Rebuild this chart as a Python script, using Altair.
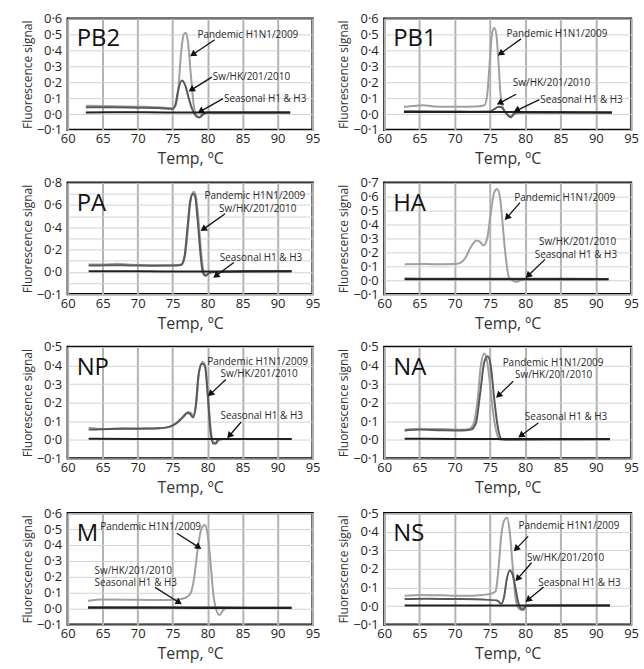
import math
import altair as alt
import pandas as pd

FONT = "Open Sans"

TEMP_DOMAIN = [60, 95]
TEMP_TICKS = [60, 65, 70, 75, 80, 85, 90, 95]

SERIES = ["Pandemic H1N1/2009", "Sw/HK/201/2010", "Seasonal H1 & H3"]
SERIES_COLORS = ["#a0a0a0", "#595959", "#202020"]

# ---------------- melt curves: (temperature in °C, fluorescence signal) ----------------
PB2_PANDEMIC = [(62.6, 0.052), (65, 0.05), (68, 0.048), (71, 0.045), (74, 0.04), (75, 0.035),
                (75.4, 0.05), (75.8, 0.15), (76.2, 0.38), (76.6, 0.5), (76.9, 0.51), (77.2, 0.45),
                (77.6, 0.25), (78.0, 0.06), (78.4, -0.01), (78.8, -0.02), (79.3, 0.0), (80, 0.01),
                (86, 0.01), (91.8, 0.01)]
PB2_SW = [(62.6, 0.042), (66, 0.042), (70, 0.04), (73, 0.038), (75, 0.032), (75.4, 0.06),
          (75.8, 0.15), (76.3, 0.21), (76.8, 0.18), (77.3, 0.1), (77.8, 0.03), (78.3, -0.01),
          (78.8, -0.022), (79.3, -0.005), (80, 0.01), (86, 0.01), (91.8, 0.01)]
PB2_SEASONAL = [(62.6, 0.01), (68, 0.011), (74, 0.01), (80, 0.01), (86, 0.009), (91.8, 0.01)]

PB1_PANDEMIC = [(62.8, 0.045), (64, 0.05), (65.5, 0.055), (67, 0.048), (70, 0.045), (73, 0.047),
                (74.2, 0.055), (74.6, 0.12), (75.0, 0.35), (75.3, 0.51), (75.6, 0.54), (75.9, 0.5),
                (76.2, 0.33), (76.5, 0.12), (76.9, 0.03), (77.4, 0.0), (77.9, -0.015), (78.4, 0.005),
                (79, 0.01), (86, 0.01), (92.3, 0.01)]
PB1_SW = [(62.8, 0.017), (68, 0.016), (72, 0.015), (75, 0.016), (75.6, 0.03), (76.2, 0.045),
          (76.7, 0.04), (77.2, 0.01), (77.7, -0.015), (78.0, -0.02), (78.4, 0.0), (79, 0.01),
          (86, 0.01), (92.3, 0.01)]
PB1_SEASONAL = [(62.8, 0.013), (70, 0.012), (78, 0.012), (86, 0.011), (92.3, 0.01)]

PA_PANDEMIC = [(63, 0.066), (65, 0.066), (67, 0.072), (69, 0.064), (72, 0.06), (75, 0.06),
               (76.3, 0.066), (76.8, 0.15), (77.2, 0.4), (77.6, 0.65), (78.0, 0.72), (78.3, 0.69),
               (78.7, 0.46), (79.1, 0.16), (79.4, 0.01), (79.8, -0.03), (80.3, -0.005), (81, 0.0),
               (86, 0.004), (92, 0.005)]
PA_SW = [(63, 0.058), (66, 0.06), (69, 0.058), (72, 0.056), (75, 0.057), (76.2, 0.062),
         (76.7, 0.14), (77.1, 0.38), (77.5, 0.63), (77.9, 0.70), (78.2, 0.68), (78.6, 0.45),
         (79.0, 0.15), (79.3, 0.0), (79.7, -0.035), (80.2, -0.01), (81, 0.0), (86, 0.004),
         (92, 0.005)]
PA_SEASONAL = [(63, 0.006), (70, 0.005), (78, 0.004), (86, 0.005), (92, 0.005)]

HA_PANDEMIC = [(62.9, 0.115), (66, 0.116), (68, 0.115), (70, 0.116), (70.8, 0.125), (71.5, 0.16),
               (72.3, 0.24), (73.1, 0.285), (73.6, 0.275), (74.1, 0.25), (74.6, 0.3), (75.1, 0.48),
               (75.6, 0.63), (76.0, 0.655), (76.4, 0.6), (76.8, 0.4), (77.2, 0.18), (77.7, 0.02),
               (78.2, 0.0), (78.7, -0.012), (79.3, 0.0), (80, 0.006), (86, 0.006), (91.8, 0.005)]
HA_SW = [(62.9, 0.012), (70, 0.01), (78, 0.01), (86, 0.01), (91.8, 0.009)]
HA_SEASONAL = [(62.9, 0.008), (70, 0.008), (78, 0.007), (86, 0.007), (91.8, 0.007)]

NP_PANDEMIC = [(63, 0.065), (65, 0.058), (68, 0.062), (71, 0.06), (73, 0.062), (74.5, 0.07),
               (75.5, 0.09), (76.5, 0.12), (77.2, 0.15), (77.6, 0.145), (78.0, 0.13), (78.4, 0.2),
               (78.8, 0.37), (79.3, 0.42), (79.7, 0.39), (80.1, 0.22), (80.5, 0.04), (80.9, -0.015),
               (81.2, -0.02), (81.6, 0.0), (82.2, 0.005), (92, 0.005)]
NP_SW = [(63, 0.055), (66, 0.058), (70, 0.06), (73, 0.062), (74.5, 0.07), (75.5, 0.088),
         (76.5, 0.125), (77.1, 0.145), (77.5, 0.14), (77.9, 0.12), (78.3, 0.18), (78.7, 0.35),
         (79.2, 0.41), (79.6, 0.4), (80.0, 0.25), (80.4, 0.05), (80.8, -0.02), (81.1, -0.02),
         (81.5, 0.0), (82.2, 0.005), (92, 0.005)]
NP_SEASONAL = [(63, 0.006), (70, 0.005), (78, 0.005), (86, 0.004), (92, 0.005)]

NA_PANDEMIC = [(62.9, 0.055), (65, 0.06), (68, 0.058), (71, 0.055), (72, 0.058), (72.6, 0.08),
               (73.2, 0.2), (73.7, 0.4), (74.2, 0.465), (74.6, 0.42), (75.0, 0.3), (75.5, 0.13),
               (76.0, 0.03), (76.4, 0.0), (77, 0.003), (92, 0.003)]
NA_SW = [(62.9, 0.05), (65, 0.055), (68, 0.052), (71, 0.05), (72.3, 0.055), (73.0, 0.09),
         (73.6, 0.25), (74.2, 0.42), (74.7, 0.45), (75.1, 0.4), (75.6, 0.22), (76.1, 0.07),
         (76.6, 0.005), (77.1, 0.0), (92, 0.003)]
NA_SEASONAL = [(62.9, 0.006), (70, 0.005), (78, 0.005), (86, 0.004), (92, 0.004)]

M_PANDEMIC = [(62.9, 0.05), (65, 0.058), (70, 0.056), (74, 0.055), (76, 0.06), (77.0, 0.072),
              (77.6, 0.1), (78.1, 0.2), (78.6, 0.38), (79.1, 0.5), (79.6, 0.525), (80.0, 0.47),
              (80.4, 0.3), (80.8, 0.1), (81.2, 0.0), (81.7, -0.04), (82.2, -0.01), (82.7, 0.005),
              (86, 0.005), (92, 0.005)]
M_SW = [(62.9, 0.01), (70, 0.009), (78, 0.009), (86, 0.008), (92, 0.008)]
M_SEASONAL = [(62.9, 0.006), (70, 0.006), (78, 0.005), (86, 0.005), (92, 0.005)]

NS_PANDEMIC = [(62.9, 0.055), (65, 0.06), (68, 0.058), (71, 0.055), (74, 0.06), (75.3, 0.068),
               (75.8, 0.08), (76.2, 0.2), (76.6, 0.38), (77.0, 0.46), (77.4, 0.475), (77.8, 0.4),
               (78.2, 0.22), (78.6, 0.05), (79.0, -0.01), (79.4, -0.02), (79.8, 0.0), (80.5, 0.003),
               (92, 0.003)]
NS_SW = [(62.9, 0.038), (66, 0.04), (70, 0.038), (74, 0.035), (76, 0.03), (76.6, 0.012),
         (77.0, 0.05), (77.4, 0.15), (77.8, 0.192), (78.2, 0.17), (78.6, 0.1), (79.0, 0.02),
         (79.4, -0.015), (79.7, -0.02), (80.1, 0.0), (81, 0.003), (92, 0.003)]
NS_SEASONAL = [(62.9, 0.003), (70, 0.003), (78, 0.003), (86, 0.003), (92, 0.003)]

# ---------------- y axes ----------------
Y_06 = [-0.1, 0.0, 0.1, 0.2, 0.3, 0.4, 0.5, 0.6]
Y_07 = [-0.1, 0.0, 0.1, 0.2, 0.3, 0.4, 0.5, 0.6, 0.7]
Y_05 = [-0.1, 0.0, 0.1, 0.2, 0.3, 0.4, 0.5]
Y_PA = [-0.2, -0.1, 0.0, 0.1, 0.2, 0.3, 0.4, 0.5, 0.6, 0.7, 0.8]

LABEL_DOT = "(datum.value < 0 ? '\u2212' : '') + replace(format(abs(datum.value), '.1f'), '.', '\u00b7')"
LABEL_PA = ("datum.value < -0.15 ? '\u22120\u00b71' : "
            "(round(datum.value * 10) % 2 == 0 ? replace(format(abs(datum.value), '.1f'), '.', '\u00b7') : '')")

# ---------------- annotations: label left edge (temp, signal) per series ----------------
PB2_TEXT = [(78.4, 0.497), (80.6, 0.232), (82.2, 0.097)]
PB1_TEXT = [(77.2, 0.503), (78.1, 0.197), (82.0, 0.09)]
PA_TEXT = [(79.4, 0.678), (81.5, 0.567), (81.6, 0.125)]
HA_TEXT = [(78.3, 0.593), (81.8, 0.271), (81.2, 0.181)]
NP_TEXT = [(79.8, 0.42), (81.7, 0.354), (81.7, 0.126)]
NA_TEXT = [(76.65, 0.412), (78.4, 0.35), (79.8, 0.123)]
M_TEXT = [(64.5, 0.51), (63.7, 0.238), (63.7, 0.16)]
NS_TEXT = [(78.9, 0.43), (80.1, 0.256), (81.7, 0.126)]

# arrows: (tail temp, tail signal, head temp, head signal)
PB2_ARROWS = [(81.0, 0.466, 78.0, 0.377), (80.6, 0.232, 77.8, 0.155), (82.2, 0.097, 79.1, 0.02)]
PB1_ARROWS = [(79.4, 0.472, 76.6, 0.383), (78.7, 0.124, 76.5, 0.072), (82.0, 0.09, 78.9, 0.025)]
PA_ARROWS = [(82.5, 0.522, 79.5, 0.388), (83.75, 0.084, 81.3, -0.03)]
HA_ARROWS = [(79.25, 0.557, 77.5, 0.455), (82.8, 0.15, 80.5, 0.038)]
NP_ARROWS = [(82.6, 0.325, 80.5, 0.25), (84.8, 0.096, 83.2, 0.026)]
NA_ARROWS = [(78.3, 0.316, 76.3, 0.242), (81.85, 0.091, 79.5, 0.026)]
M_ARROWS = [(75.6, 0.474, 78.6, 0.39), (72.5, 0.134, 75.8, 0.042)]
NS_ARROWS = [(80.4, 0.375, 78.8, 0.312), (80.9, 0.233, 79.0, 0.151), (82.6, 0.103, 80.5, 0.037)]

PLOT_H = 112
LEFT_W = 246
RIGHT_W = 248


def arrow_frame(arrows, ydom, width):
    rows = []
    for t0, s0, t1, s1 in arrows:
        dx = (t1 - t0) / (TEMP_DOMAIN[1] - TEMP_DOMAIN[0]) * width
        dy = -(s1 - s0) / (ydom[1] - ydom[0]) * PLOT_H
        ang = math.degrees(math.atan2(dx, -dy)) % 360
        rows.append({"t0": t0, "s0": s0, "t1": t1, "s1": s1, "ang": ang})
    return pd.DataFrame(rows)


def panel(name, curves, ydom, yticks, label_expr, texts, arrows, width):
    x_scale = alt.Scale(domain=TEMP_DOMAIN, nice=False, zero=False)
    y_scale = alt.Scale(domain=ydom, nice=False, zero=False)
    x_axis = alt.Axis(values=TEMP_TICKS, title="Temp, \u00baC", grid=True, gridColor="#b2b2b2",
                      gridWidth=2, ticks=False, domain=False, labelFontSize=13,
                      labelPadding=3, titleFontSize=16, titlePadding=5, labelFlush=False,
                      labelOverlap=False, format="d")
    y_axis = alt.Axis(values=yticks, labelExpr=label_expr, title="Fluorescence signal",
                      grid=True, gridColor="#d2d2d2", gridWidth=1, ticks=False, domain=False,
                      labelFontSize=13, labelPadding=6, titleFontSize=12, titlePadding=2,
                      labelFlush=False, labelOverlap=False)

    def X(field):
        return alt.X(field, type="quantitative", scale=x_scale, axis=x_axis)

    def Y(field):
        return alt.Y(field, type="quantitative", scale=y_scale, axis=y_axis)

    layers = []
    for pts, color in zip(curves, SERIES_COLORS):
        df = pd.DataFrame(pts, columns=["temp", "signal"])
        layers.append(
            alt.Chart(df).mark_line(color=color, strokeWidth=2, interpolate="monotone")
            .encode(x=X("temp"), y=Y("signal"))
        )

    tdf = pd.DataFrame([{"temp": t, "signal": s, "label": lab} for (t, s), lab in zip(texts, SERIES)])
    layers.append(
        alt.Chart(tdf).mark_text(align="left", baseline="middle", fontSize=10, dx=1, color="#2a2a2a")
        .encode(x=X("temp"), y=Y("signal"), text="label:N")
    )

    adf = arrow_frame(arrows, ydom, width)
    layers.append(
        alt.Chart(adf).mark_rule(color="#111111", strokeWidth=1.3)
        .encode(x=X("t0"), y=Y("s0"), x2="t1:Q", y2="s1:Q")
    )
    layers.append(
        alt.Chart(adf).mark_point(shape="triangle", filled=True, size=55, color="#111111", opacity=1)
        .encode(x=X("t1"), y=Y("s1"), angle=alt.Angle("ang:Q", scale=None))
    )

    ndf = pd.DataFrame({"name": [name]})
    layers.append(
        alt.Chart(ndf).mark_text(align="left", baseline="middle", fontSize=24, color="#111111")
        .encode(x=alt.value(9), y=alt.value(21), text="name:N")
    )
    return alt.layer(*layers).properties(width=width, height=PLOT_H)


pb2 = panel("PB2", [PB2_PANDEMIC, PB2_SW, PB2_SEASONAL], [-0.1, 0.6], Y_06, LABEL_DOT, PB2_TEXT, PB2_ARROWS, LEFT_W)
pb1 = panel("PB1", [PB1_PANDEMIC, PB1_SW, PB1_SEASONAL], [-0.1, 0.6], Y_06, LABEL_DOT, PB1_TEXT, PB1_ARROWS, RIGHT_W)
pa = panel("PA", [PA_PANDEMIC, PA_SW, PA_SEASONAL], [-0.2, 0.8], Y_PA, LABEL_PA, PA_TEXT, PA_ARROWS, LEFT_W)
ha = panel("HA", [HA_PANDEMIC, HA_SW, HA_SEASONAL], [-0.1, 0.7], Y_07, LABEL_DOT, HA_TEXT, HA_ARROWS, RIGHT_W)
np_ = panel("NP", [NP_PANDEMIC, NP_SW, NP_SEASONAL], [-0.1, 0.5], Y_05, LABEL_DOT, NP_TEXT, NP_ARROWS, LEFT_W)
na = panel("NA", [NA_PANDEMIC, NA_SW, NA_SEASONAL], [-0.1, 0.5], Y_05, LABEL_DOT, NA_TEXT, NA_ARROWS, RIGHT_W)
m = panel("M", [M_PANDEMIC, M_SW, M_SEASONAL], [-0.1, 0.6], Y_06, LABEL_DOT, M_TEXT, M_ARROWS, LEFT_W)
ns = panel("NS", [NS_PANDEMIC, NS_SW, NS_SEASONAL], [-0.1, 0.5], Y_05, LABEL_DOT, NS_TEXT, NS_ARROWS, RIGHT_W)

rows = [alt.hconcat(a, b, spacing=15) for a, b in [(pb2, pb1), (pa, ha), (np_, na), (m, ns)]]
upper = alt.vconcat(rows[0], rows[1], rows[2], spacing=6)

chart = (
    alt.vconcat(upper, rows[3], spacing=8)
    .properties(padding={"left": 20, "top": 9, "right": 4, "bottom": 4}, background="white")
    .configure(font=FONT)
    .configure_view(stroke="#000000", strokeWidth=2.2)
    .configure_axis(labelColor="#1e1e1e", titleColor="#333333", titleFontWeight="normal",
                    labelFont=FONT, titleFont=FONT)
)

chart.save("out.html", embed_options={"renderer": "svg", "actions": False})
